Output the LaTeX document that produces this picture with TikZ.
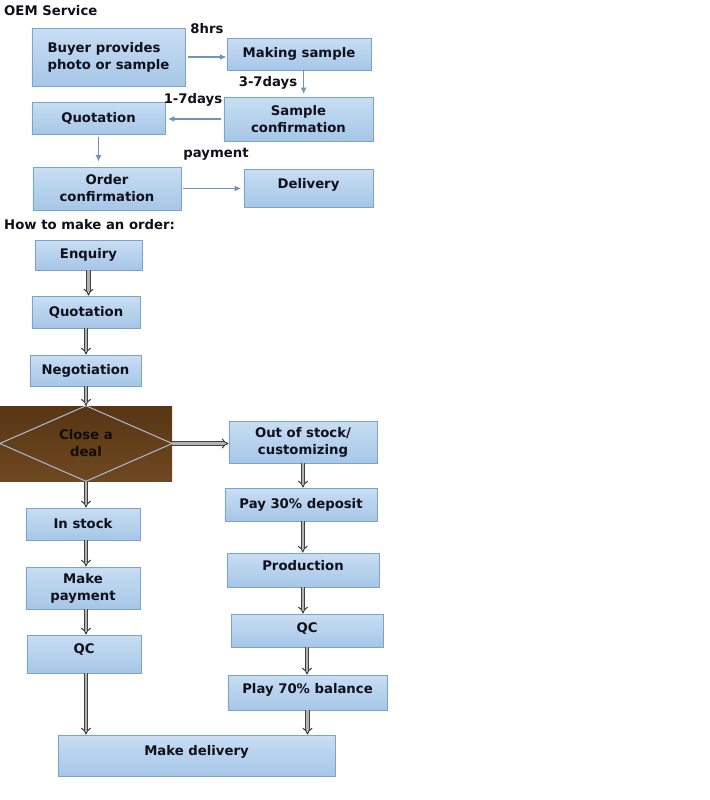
\documentclass[tikz,border=0pt]{standalone}
\usepackage{fontspec}
\setmainfont{DejaVu Sans}
\usepackage{xcolor}
\usetikzlibrary{arrows.meta,calc}

\definecolor{boxtop}{HTML}{C8DEF3}
\definecolor{boxbot}{HTML}{A6C6E7}
\definecolor{boxline}{HTML}{7BA3CB}
\definecolor{arrblue}{HTML}{6F93BA}
\definecolor{dealtop}{HTML}{583614}
\definecolor{dealbot}{HTML}{6E4820}
\definecolor{diamline}{HTML}{A6B8CC}
\definecolor{inktext}{HTML}{10101C}

\begin{document}
\begin{tikzpicture}[x=0.03cm,y=-0.03cm,
  box/.style={draw=boxline,line width=0.8pt,top color=boxtop,bottom color=boxbot,
              align=center,inner sep=1pt,text=inktext,
              font=\fontsize{11.3}{14.5}\selectfont\bfseries},
  lift/.style={text depth=#1},
  thinarr/.style={-{Latex[length=2mm,width=1.8mm]},line width=1.2pt,draw=arrblue},
  pipe/.style={-{Implies},draw=black!75,double=gray!60,double distance=2pt,line width=0.9pt},
  lbl/.style={font=\fontsize{11.3}{14.5}\selectfont\bfseries,text=inktext,inner sep=0pt}
]
\useasboundingbox (0,0) rectangle (710,800);

% OEM part
\node[lbl,anchor=west] (oemtitle) at (4,11) {OEM Service};
\node[box,align=left,minimum width=4.59cm,minimum height=1.74cm] (buyer) at (108.5,57) {Buyer provides\\photo or sample};
\node[box,minimum width=4.32cm,minimum height=0.96cm] (making) at (299,54) {Making sample};
\node[box,minimum width=4.47cm,minimum height=1.32cm] (sampconf) at (298.5,119) {Sample\\confirmation};
\node[box,minimum width=3.99cm,minimum height=0.96cm] (quote) at (98.5,118) {Quotation};
\node[box,minimum width=4.44cm,minimum height=1.29cm] (order) at (107,188.5) {Order\\confirmation};
\node[box,minimum width=3.87cm,minimum height=1.14cm,lift=0.25cm] (delivery) at (308.5,188) {Delivery};

\draw[thinarr,shorten <=2pt] (buyer.east) -- (buyer.east -| making.west);
\draw[thinarr,shorten >=2pt] ([xshift=4pt]making.south) -- ([xshift=4pt]making.south |- sampconf.north);
\draw[thinarr,shorten <=2pt,shorten >=2pt] (sampconf.west) -- (sampconf.west -| quote.east);
\draw[thinarr,shorten <=2pt,shorten >=4pt] (quote.south) -- (quote.south |- order.north);
\draw[thinarr,shorten <=1pt,shorten >=2pt] (order.east) -- (order.east -| delivery.west);

\node[lbl] (hrs) at (207,29) {8hrs};
\node[lbl] (days37) at (268,83) {3-7days};
\node[lbl] (days17) at (193,100) {1-7days};
\node[lbl] (pay) at (216,154) {payment};

% order part
\node[lbl,anchor=west] (howto) at (4,225) {How to make an order:};
\node[box,minimum width=3.21cm,minimum height=0.90cm] (enquiry) at (88.5,255) {Enquiry};
\node[box,minimum width=3.24cm,minimum height=0.96cm] (quote2) at (86,312) {Quotation};
\node[box,minimum width=3.33cm,minimum height=0.93cm] (nego) at (85.5,370.5) {Negotiation};
\node[top color=dealtop,bottom color=dealbot,minimum width=5.16cm,minimum height=2.25cm,
      inner sep=0pt] (deal) at (86,443.5) {};
\draw[diamline,line width=0.9pt] (deal.west) -- (deal.north) -- (deal.east) -- (deal.south) -- cycle;
\node[align=center,font=\fontsize{11.3}{14.5}\selectfont\bfseries,text=black!90!brown] (dealtxt) at (86,443.5) {Close a\\deal};

\node[box,minimum width=4.44cm,minimum height=1.26cm] (outstock) at (303,442) {Out of stock/\\customizing};
\node[box,minimum width=4.56cm,minimum height=0.99cm] (deposit) at (301,504.5) {Pay 30\% deposit};
\node[box,minimum width=4.56cm,minimum height=1.02cm,lift=0.25cm] (production) at (303,570) {Production};
\node[box,minimum width=4.56cm,minimum height=0.99cm,lift=0.2cm] (qcright) at (307,630.5) {QC};
\node[box,minimum width=4.77cm,minimum height=1.05cm,lift=0.25cm] (balance) at (307.5,692.5) {Play 70\% balance};

\node[box,minimum width=3.42cm,minimum height=0.96cm] (instock) at (83,524) {In stock};
\node[box,minimum width=3.42cm,minimum height=1.26cm] (makepay) at (83,588) {Make\\payment};
\node[box,minimum width=3.42cm,minimum height=1.14cm,lift=0.35cm] (qcleft) at (84,654) {QC};
\node[box,minimum width=8.31cm,minimum height=1.23cm,lift=0.3cm] (makedeliv) at (196.5,755.5) {Make delivery};

\draw[pipe] (enquiry.south) -- (enquiry.south |- quote2.north);
\draw[pipe] (quote2.south) -- (quote2.south |- nego.north);
\draw[pipe] (nego.south -| deal.north) -- (deal.north);
\draw[pipe] (deal.east) -- (deal.east -| outstock.west);
\draw[pipe] (deal.south) -- (deal.south |- instock.north);
\draw[pipe] (instock.south -| deal.south) -- (deal.south |- makepay.north);
\draw[pipe] (makepay.south -| deal.south) -- (deal.south |- qcleft.north);
\draw[pipe] (qcleft.south -| deal.south) -- (deal.south |- makedeliv.north);
\draw[pipe] (outstock.south) -- (outstock.south |- deposit.north);
\draw[pipe] ([xshift=1.5pt]deposit.south) -- ([xshift=1.5pt]deposit.south |- production.north);
\draw[pipe] (production.south) -- (production.south |- qcright.north);
\draw[pipe] (qcright.south) -- (qcright.south |- balance.north);
\draw[pipe] (balance.south) -- (balance.south |- makedeliv.north);
\end{tikzpicture}
\end{document}
